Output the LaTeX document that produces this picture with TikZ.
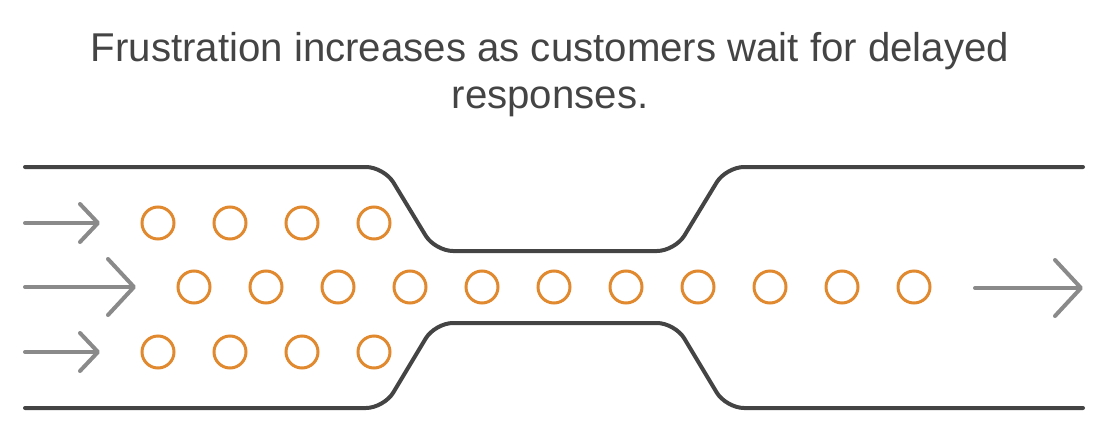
\documentclass[tikz,border=0pt]{standalone}
\usepackage{fontspec}
\setmainfont{Liberation Sans}
\usetikzlibrary{arrows.meta}
\definecolor{wallgray}{HTML}{444444}
\definecolor{arrowgray}{HTML}{8A8A8A}
\definecolor{dotorange}{HTML}{E0892F}
\definecolor{titlegray}{HTML}{444444}
\begin{document}
\begin{tikzpicture}[
    x=1pt,y=-1pt,
    wall/.style={draw=wallgray,line width=4pt,line cap=round,rounded corners=18pt},
    arr/.style={draw=arrowgray,line width=4pt,line cap=round,-{Straight Barb[round,length=18pt,width=38pt]}},
    bigarr/.style={arr,-{Straight Barb[round,length=26pt,width=56pt]}},
    cust/.style={circle,draw=dotorange,line width=3pt,minimum size=32pt,inner sep=0pt}
]
\useasboundingbox (0,0) rectangle (1108,434);
\node[font=\fontsize{40.2}{47}\selectfont,text=titlegray,align=center] (title) at (550,75)
    {Frustration increases as customers wait for delayed\\responses.};
% channel walls
\draw[wall] (25,167) -- (384,167) -- (435,251) -- (675,251) -- (726,167) -- (1083,167);
\draw[wall] (25,408) -- (384,408) -- (435,323) -- (675,323) -- (726,408) -- (1083,408);
% incoming and outgoing arrows
\coordinate (intop) at (25,223);
\coordinate (intopend) at (100,223);
\coordinate (inmid) at (25,287);
\coordinate (inmidend) at (136,287);
\coordinate (inbot) at (25,352);
\coordinate (inbotend) at (100,352);
\coordinate (outmid) at (975,288);
\coordinate (outmidend) at (1083,288);
\draw[arr] (intop) -- (intopend);
\draw[bigarr] (inmid) -- (inmidend);
\draw[arr] (inbot) -- (inbotend);
\draw[bigarr] (outmid) -- (outmidend);
% waiting customers
\node[cust] (t1) at (158,223) {};
\node[cust] (t2) at (230,223) {};
\node[cust] (t3) at (302,223) {};
\node[cust] (t4) at (374,223) {};
\node[cust] (m1) at (194,287) {};
\node[cust] (m2) at (266,287) {};
\node[cust] (m3) at (338,287) {};
\node[cust] (m4) at (410,287) {};
\node[cust] (m5) at (482,287) {};
\node[cust] (m6) at (554,287) {};
\node[cust] (m7) at (626,287) {};
\node[cust] (m8) at (698,287) {};
\node[cust] (m9) at (770,287) {};
\node[cust] (m10) at (842,287) {};
\node[cust] (m11) at (914,287) {};
\node[cust] (b1) at (158,352) {};
\node[cust] (b2) at (230,352) {};
\node[cust] (b3) at (302,352) {};
\node[cust] (b4) at (374,352) {};
\end{tikzpicture}
\end{document}
